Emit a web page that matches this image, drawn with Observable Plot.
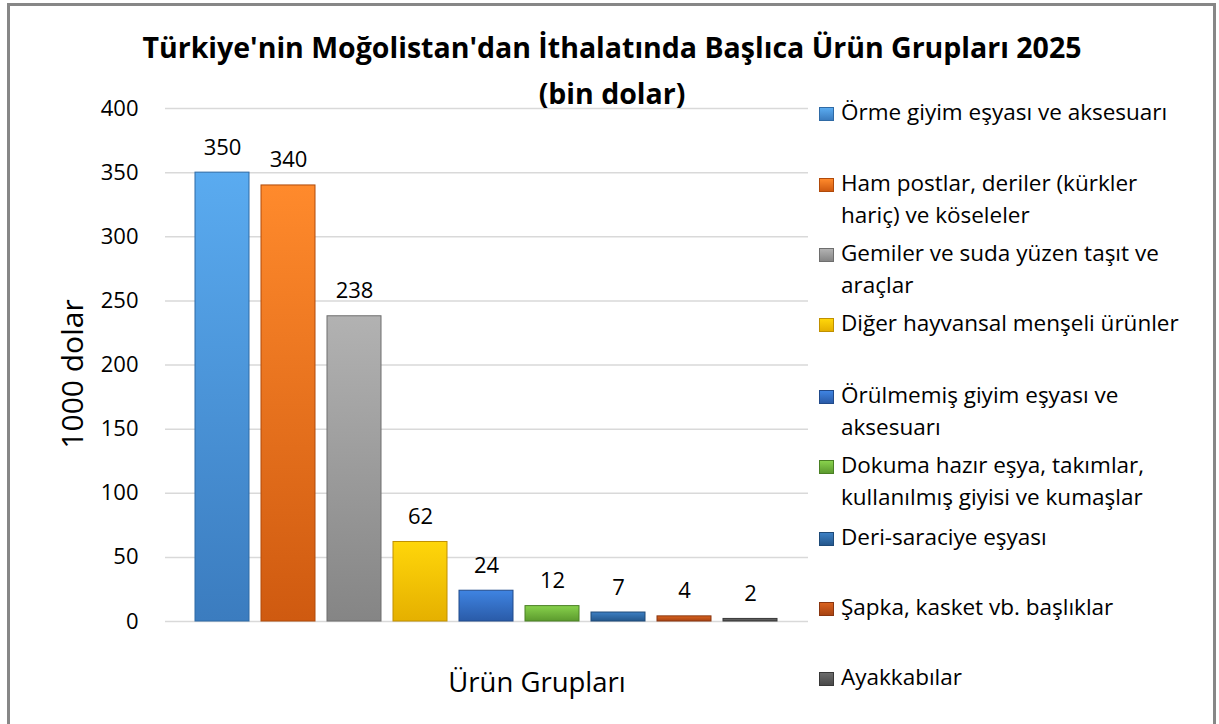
<!DOCTYPE html>
<html>
<head>
<meta charset="utf-8">
<script src="https://cdn.jsdelivr.net/npm/d3@7"></script>
<script src="https://cdn.jsdelivr.net/npm/@observablehq/plot@0.6"></script>
<style>
  html, body { margin: 0; padding: 0; background: #fff; width: 1219px; height: 724px; overflow: hidden; }
  body { font-family: "Open Sans", sans-serif; color: #000; position: relative; }
  #frame { position: absolute; left: 7px; top: 3px; width: 1203px; height: 760px; border: 3px solid #878787; box-sizing: content-box; }
  #title { position: absolute; left: 0; top: 24px; width: 1224px; text-align: center; font-weight: 700; font-size: 28.5px; line-height: 46px; }
  #chart { position: absolute; left: 0; top: 0; }
  .leg { position: absolute; left: 819px; font-size: 22.5px; line-height: 32px; }
  .leg .sw { position: absolute; left: 0; top: 11px; width: 15px; height: 14px; }
  .leg .tx { position: absolute; left: 22px; top: 0; width: 350px; }
</style>
</head>
<body>
<div id="frame"></div>
<div id="chart"></div>
<div id="title">Türkiye'nin Moğolistan'dan İthalatında Başlıca Ürün Grupları 2025<br>(bin dolar)</div>
<div id="legend"></div>
<script>
const categories = [
  "Örme giyim eşyası ve aksesuarı",
  "Ham postlar, deriler (kürkler hariç) ve köseleler",
  "Gemiler ve suda yüzen taşıt ve araçlar",
  "Diğer hayvansal menşeli ürünler",
  "Örülmemiş giyim eşyası ve aksesuarı",
  "Dokuma hazır eşya, takımlar, kullanılmış giyisi ve kumaşlar",
  "Deri-saraciye eşyası",
  "Şapka, kasket vb. başlıklar",
  "Ayakkabılar"
];
const values = [350, 340, 238, 62, 24, 12, 7, 4, 2];
const yTicks = [0, 50, 100, 150, 200, 250, 300, 350, 400];
const colorTop = ["#5aabf0", "#ff8a2c", "#b2b2b2", "#ffd60a", "#3f84e2", "#88d24c", "#3d80c4", "#d9621f", "#6c6c6c"];
const colorBottom = ["#3b7cbf", "#cf5a10", "#858585", "#e5b000", "#2a5ba8", "#5c9a2e", "#24578c", "#a84312", "#494949"];
const colorEdge = ["#2f6aa5", "#b04a0a", "#6e6e6e", "#c09000", "#214a8a", "#4a8024", "#1e4a78", "#8a3610", "#383838"];

const data = categories.map((c, i) => ({name: c, value: values[i], idx: i}));

const chart = Plot.plot({
  width: 1219,
  height: 724,
  marginTop: 108,
  marginBottom: 103,
  marginLeft: 165,
  marginRight: 411,
  style: {fontFamily: "Open Sans, sans-serif", fontSize: "22px", background: "transparent", color: "#000", overflow: "visible"},
  x: {type: "band", domain: categories, paddingInner: 0.18, paddingOuter: 0.39, axis: null},
  y: {domain: [0, 400], axis: null},
  color: {type: "identity"},
  marks: [
    Plot.ruleY(yTicks, {stroke: "#d9d9d9", strokeWidth: 1.5}),
    Plot.axisY({ticks: yTicks, tickSize: 0, tickPadding: 27, fontSize: 22, label: null}),
    Plot.barY(data, {
      x: "name", y: "value",
      fill: d => `url(#grad${d.idx})`,
      stroke: d => colorEdge[d.idx],
      strokeWidth: 1
    }),
    Plot.text(data, {x: "name", y: "value", text: d => String(d.value), dy: -25, fontSize: 22, fill: "#000"}),
    Plot.text(["1000 dolar"], {text: d => d, frameAnchor: "left", textAnchor: "middle", lineAnchor: "middle", dx: -92, dy: 9, rotate: -90, fontSize: 30, fill: "#000"}),
    Plot.text(["Ürün Grupları"], {text: d => d, frameAnchor: "bottom", textAnchor: "middle", lineAnchor: "middle", dx: 50, dy: 62, fontSize: 27.5, fill: "#000"})
  ]
});

const defs = d3.select(chart).insert("defs", ":first-child");
categories.forEach((c, i) => {
  const g = defs.append("linearGradient").attr("id", `grad${i}`).attr("x1", 0).attr("y1", 0).attr("x2", 0).attr("y2", 1);
  g.append("stop").attr("offset", "0%").attr("stop-color", colorTop[i]);
  g.append("stop").attr("offset", "100%").attr("stop-color", colorBottom[i]);
});

document.getElementById("chart").appendChild(chart);

const legendTops = [96, 167, 237, 307, 379, 449, 521, 591, 661];
const legend = document.getElementById("legend");
categories.forEach((c, i) => {
  const item = document.createElement("div");
  item.className = "leg";
  item.style.top = legendTops[i] + "px";
  const sw = document.createElement("div");
  sw.className = "sw";
  sw.style.background = `linear-gradient(${colorTop[i]}, ${colorBottom[i]})`;
  sw.style.border = `1px solid ${colorEdge[i]}`;
  sw.style.boxSizing = "border-box";
  const tx = document.createElement("div");
  tx.className = "tx";
  tx.textContent = c;
  item.appendChild(sw);
  item.appendChild(tx);
  legend.appendChild(item);
});
</script>
</body>
</html>
